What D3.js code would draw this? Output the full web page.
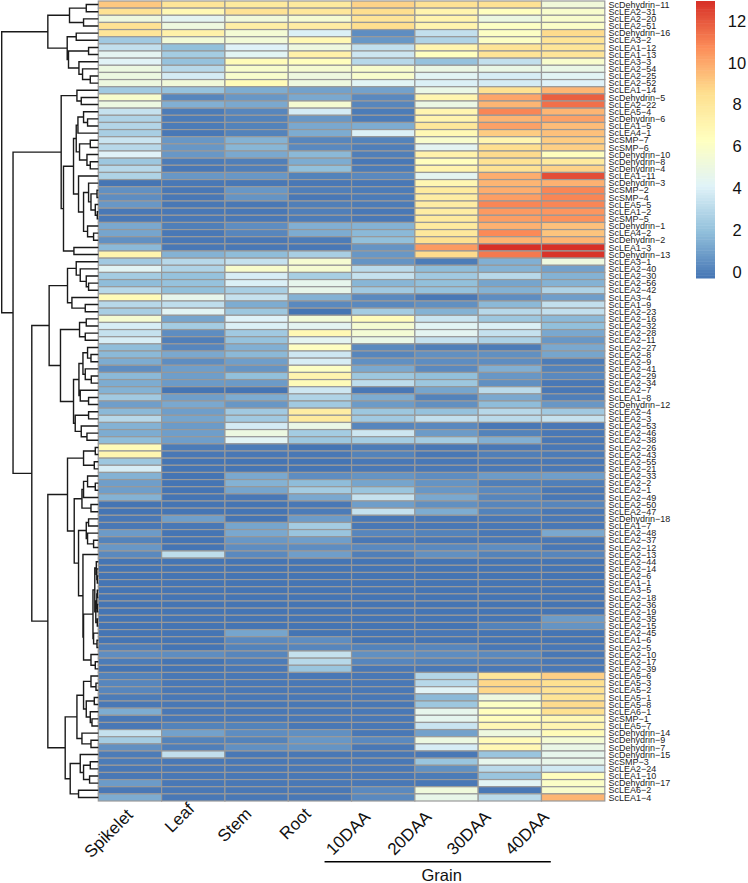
<!DOCTYPE html>
<html><head><meta charset="utf-8">
<script src="https://cdn.jsdelivr.net/npm/d3@7/dist/d3.min.js"></script>
<style>html,body{margin:0;padding:0;background:#fff}svg{display:block}text{font-family:"Liberation Sans",Arial,sans-serif}</style>
</head><body><svg id="c" width="748" height="883"></svg>
<script>
const tissues=["Spikelet","Leaf","Stem","Root","10DAA","20DAA","30DAA","40DAA"];
const genes=["ScDehydrin-11","ScLEA2-31","ScLEA2-20","ScLEA2-51","ScDehydrin-16","ScLEA3-2","ScLEA1-12","ScLEA1-13","ScLEA3-3","ScLEA2-54","ScLEA2-25","ScLEA2-52","ScLEA1-14","ScDehydrin-5","ScLEA2-22","ScLEA5-4","ScDehydrin-6","ScLEA1-5","ScLEA4-1","ScSMP-7","ScSMP-6","ScDehydrin-10","ScDehydrin-8","ScDehydrin-4","ScLEA1-11","ScDehydrin-3","ScSMP-2","ScSMP-4","ScLEA5-5","ScLEA1-2","ScSMP-5","ScDehydrin-1","ScLEA4-2","ScDehydrin-2","ScLEA1-3","ScDehydrin-13","ScLEA3-1","ScLEA2-40","ScLEA2-30","ScLEA2-56","ScLEA2-42","ScLEA3-4","ScLEA1-9","ScLEA2-23","ScLEA2-16","ScLEA2-32","ScLEA2-28","ScLEA2-11","ScLEA2-27","ScLEA2-8","ScLEA2-9","ScLEA2-41","ScLEA2-29","ScLEA2-34","ScLEA2-7","ScLEA1-8","ScDehydrin-12","ScLEA2-4","ScLEA2-3","ScLEA2-53","ScLEA2-46","ScLEA2-38","ScLEA2-26","ScLEA2-43","ScLEA2-55","ScLEA2-21","ScLEA2-33","ScLEA2-2","ScLEA2-1","ScLEA2-49","ScLEA2-50","ScLEA2-47","ScDehydrin-18","ScLEA1-7","ScLEA2-48","ScLEA2-37","ScLEA2-12","ScLEA2-13","ScLEA2-44","ScLEA2-14","ScLEA2-6","ScLEA1-1","ScLEA3-5","ScLEA2-18","ScLEA2-36","ScLEA2-19","ScLEA2-35","ScLEA2-15","ScLEA2-45","ScLEA1-6","ScLEA2-5","ScLEA2-10","ScLEA2-17","ScLEA2-39","ScLEA5-6","ScLEA5-3","ScLEA5-2","ScLEA5-1","ScLEA5-8","ScLEA6-1","ScSMP-1","ScLEA5-7","ScDehydrin-14","ScDehydrin-9","ScDehydrin-7","ScDehydrin-15","ScSMP-3","ScLEA2-24","ScLEA1-10","ScDehydrin-17","ScLEA6-2","ScLEA1-4"];
const expression=[
[9.3,8.3,8,8,9,8.5,8.5,5.5],
[8.5,7,8.5,8.2,8.7,7.3,6.5,6],
[5.3,4.6,5.5,5.8,8.3,7.3,5.2,6],
[8.5,5.3,7.7,7.8,8.7,7.3,6.3,6.2],
[8.3,7.5,5.7,4.2,.7,3.5,6.3,8.8],
[2.6,5.6,5.6,7,1,3,6.3,8.4],
[3.5,2.2,4.3,5.3,3.5,7.2,8.4,8.3],
[4.6,2.7,4.5,7.5,3.8,6.5,8.4,8.3],
[4.4,2.3,6.8,6.6,3.2,2.3,3.5,6],
[5.2,3.2,6,5.8,6,5.1,5,5],
[5.2,4,6,5.3,6,4.5,4.1,4.5],
[5.3,5.5,6.8,5.3,4.5,4.2,4,4.3],
[2.6,2.3,1.6,1.3,1.3,5,8.6,9.8],
[6,.5,1,1.5,.6,7.2,10.2,11.9],
[5.2,1.7,1.5,5.8,.5,5.1,9.8,11.5],
[3.6,.2,.5,4,.2,7.2,11,9.8],
[3,.2,.4,1,.2,7.3,9.8,10.3],
[3.1,.2,.4,1.5,1.6,8.2,10.3,9.6],
[2.8,.1,.4,1.6,4.2,7,9.2,9.5],
[3.7,1,1.8,.5,.4,6,7.2,9.2],
[3.2,1,1.9,.6,.3,4.6,8.7,9.1],
[4.3,1,1.5,2,.3,7.4,8.8,6.6],
[2.5,.2,.3,1.6,.1,6.6,8.5,8],
[3.2,.1,.3,2.2,.2,7.3,8.5,9],
[3,1,1,.4,.6,4.6,10,12.3],
[0,.1,.1,.1,.1,7.1,9.8,9.9],
[.8,.1,1,.3,.2,8,10,11],
[.7,.1,.9,.1,.2,7.8,10.4,11],
[1,.1,.1,.3,.2,7.8,11,11],
[.1,.1,.1,.3,.1,7.8,10.5,10.6],
[.1,.1,.1,.2,.1,8,10.4,10.7],
[1.5,.3,.7,1.7,1.8,8,9.9,9.5],
[1.4,.1,.5,1.6,2,8.1,10.9,9.4],
[.8,.1,.1,.2,2.2,8.6,9.8,9.8],
[2,.1,.1,.1,.9,10.5,13,13],
[7.3,1.8,2.1,2.8,1,8.8,11.3,12.9],
[2.6,3.2,3.6,5.8,.9,.2,1.7,5.3],
[4.5,3,6,5.8,3.3,2.1,1.8,1.3],
[2.7,2.3,4.1,2.8,3.6,2.6,3.2,1.8],
[2.1,2.3,4.2,4.8,1.9,2.2,1.4,1.8],
[3.2,2.2,2.8,4.9,2.6,2.3,1.8,3],
[6.8,4.8,3.6,1.8,.6,.1,.7,1.2],
[3.2,3.4,1.6,.6,.6,.8,2,3.5],
[2.8,4.5,2.5,0,2.7,1.8,3.2,3.5],
[5.8,1.4,4.3,5.6,6.7,3.7,2.5,2],
[4.1,2.7,4.2,4.6,5.8,4.5,4.2,2.2],
[3.6,.7,2.6,7,5.7,4.6,3.6,1.5],
[4.1,.3,2.3,4.6,5,3.6,2.9,1],
[2.1,.5,1.7,6.4,.6,.3,.2,1.5],
[2,1.5,2,3.8,.5,.8,.8,1.4],
[1.6,.7,1.2,4.1,.8,.7,.7,.2],
[.7,1.2,.9,6.3,1.5,.6,1.7,.4],
[2,1.2,2.2,7.3,2.5,2.2,1,.6],
[1.6,1.1,1.1,6.8,3.4,2.5,.8,.1],
[1.8,0,0,3.8,.1,1.4,3.3,.1],
[2.6,1.2,1.6,3,1.6,.4,1.5,.3],
[1.2,1.5,1,2.6,1.1,.8,2.1,1],
[2,1.2,2.6,7.8,2.5,2.3,3.2,2.6],
[3.2,1.4,2.6,8,2.6,3.5,3.3,3.6],
[1.8,1.1,4,5,.5,.6,.1,.1],
[1.6,1.2,5.2,2.7,3.8,1.1,.4,.1],
[2.1,1.2,4.5,2.5,2.7,2.7,1.7,.1],
[6.8,.2,.2,0,.2,.1,.1,.1],
[7.2,.1,.1,.1,.4,.1,.3,.2],
[2.5,0,0,0,.1,.1,.1,.1],
[4.1,0,0,0,.1,.1,.1,.1],
[1.8,0,1.5,.7,.9,.7,1.1,1.2],
[1.2,0,1.8,2.1,1.4,.9,.3,.3],
[1.2,0,1.4,2.7,2.4,1,.6,.1],
[1.8,0,.1,1.5,3.6,1.5,.5,.1],
[0,0,0,.1,1.2,.8,.5,.5],
[0,0,0,.2,3.6,1.6,.4,.1],
[.1,1.2,0,1.1,.1,.1,.1,.1],
[.1,.1,1.4,2.7,.1,.1,.1,.1],
[1.1,0,1.5,2.4,.5,.4,.1,1.5],
[.4,0,1,1.2,.1,.1,.1,.1],
[1,0,.7,.7,.6,.6,.7,.1],
[.6,3.4,.6,1.2,.3,.8,.4,.5],
[0,0,0,0,0,0,0,0],
[0,0,0,0,0,0,0,0],
[0,0,0,0,0,0,0,0],
[0,0,0,0,0,0,0,0],
[0,0,0,0,0,0,0,0],
[0,0,0,0,0,0,0,0],
[0,0,0,0,0,0,0,0],
[0,0,0,0,0,0,0,0],
[0,0,0,0,0,0,0,1.1],
[0,0,0,0,0,0,.4,.9],
[0,0,1.4,0,0,.1,0,0],
[0,0,.6,.7,0,0,0,0],
[.3,0,.4,.5,.4,.5,.1,.1],
[.7,.7,.5,3.6,.8,.7,.6,.1],
[.2,0,.2,3.2,.5,.4,.3,.1],
[0,0,.1,2.4,.1,.1,.1,.1],
[.4,.1,.1,.1,.1,3.1,8.3,9.1],
[.5,.1,.1,.1,.1,3.2,8.9,8.6],
[.5,.1,.1,.1,.1,4.4,8.9,8.5],
[.2,.1,.1,.1,.1,2,5.3,8.4],
[.1,.1,.1,.1,.1,2.5,6.3,8.8],
[1.6,.1,.1,.1,.1,4.8,6.6,8.6],
[.1,.1,.1,.1,.1,4.7,6.6,7],
[.1,.4,.4,.1,.1,3.7,7,7.2],
[3.6,1.3,.7,.8,.1,1.3,5.3,6.8],
[2.7,.4,.4,1,.6,5.2,6.8,5.7],
[.8,.3,.8,.9,.1,4.1,7,5],
[.2,3.5,.1,.1,.1,.1,2.4,4.8],
[.2,.1,.1,.1,.1,2.4,4.8,4.9],
[.1,.1,.1,.1,.1,.8,3.3,3.9],
[.1,.1,.1,.1,.1,.2,2.4,6.6],
[1.1,.1,.1,.1,.1,.1,4.5,6.2],
[.1,.1,.1,.1,.6,5.4,.1,6],
[1.6,.1,.1,.1,.6,4.9,3.3,9.8]
];
const colorStops=["#4575B4","#91BFDB","#E0F3F8","#FFFFBF","#FEE090","#FC8D59","#D73027"];
const legendTicks=[0,2,4,6,8,10,12];
const labelShift=[[4,-2],[2,-8],[-4,-3],[-8,-3],[-12,0],[-14,0],[-18,0],[-23,0]];
// merge tree: [height, left, right]; numbers are 1-based row positions
const upperCluster=[50.3,[28.7,[12,1,2],[14.7,3,4]],[31,[22,5,6],[29.7,[9.7,7,8],[19.3,9,[15.7,10,[8,11,12]]]]]];
const seedCluster=[37,[21.3,13,[17,14,15]],[34.7,[24.7,[22,[20.3,[14.7,16,[10.7,17,18]],19],[18.7,[8,20,21],[11.3,22,[8,23,24]]]],[19.7,25,[14.7,[9.7,26,[7.3,[1.3,27,28],[3,29,[1,30,31]]]],[10.7,32,[4.7,33,34]]]]],[24.3,35,36]]];
const midCluster=[49,[30.7,[22,37,[18,38,[12,39,[9.7,40,41]]]],[26.3,42,[13,43,44]]],[37.7,[18.7,[12,45,46],[13,47,48]],[24.7,[19.3,[15.3,[10.7,49,[7.3,50,51]],[13,52,[7,53,54]]],[18,55,[9.7,56,57]]],[23,[9.7,58,59],[17,60,[11.3,61,62]]]]]];
const lowCluster=[30.7,[14.7,[3,63,64],[4,65,66]],[24,[16.3,[14.7,[10.7,67,[3,68,69]],70],[7.3,71,72]],[19.7,[12,[9.7,73,74],[10.7,75,[4.7,76,77]]],[15.3,78,[14.7,[5.3,[3.5,[2,79,[1.5,80,[1,81,82]]],[2.5,[1.5,[1,83,84],[1,85,86]],[1,87,88]]],[4.7,89,[1.3,90,91]]],[7.3,92,[3,93,94]]]]]]];
const lateCluster=[33,[21.3,[14.7,[7.3,95,[2.3,96,97]],[12,[4,98,99],[8,100,[6.3,101,102]]]],[16.3,103,[7.3,104,105]]],[28,[18,106,[14.7,[8,107,108],[8.7,109,110]]],[19.7,111,112]]];
const rootHeight=96.3, splitHeight=85, restHeight=66.3, lowerHeight=50.3;
const tree=[rootHeight,upperCluster,[splitHeight,seedCluster,[restHeight,midCluster,[lowerHeight,lowCluster,lateCluster]]]];

const L={left:98.3,right:604.8,top:1,bottom:801,legX:696,legW:19,legTop:1,legBottom:278};
const svg=d3.select("#c");
const xS=d3.scaleBand().domain(tissues).range([L.left,L.right]);
const yS=d3.scaleBand().domain(genes).range([L.top,L.bottom]);
const cMax=13;
const color=d3.scaleLinear().domain(colorStops.map((_,i)=>i*cMax/(colorStops.length-1))).range(colorStops).interpolate(d3.interpolateRgb).clamp(true);

const cells=[];
expression.forEach((row,i)=>row.forEach((v,j)=>cells.push({g:genes[i],t:tissues[j],v})));
svg.append("g").selectAll("rect").data(cells).join("rect")
  .attr("x",d=>xS(d.t)).attr("y",d=>yS(d.g)).attr("width",xS.bandwidth()).attr("height",yS.bandwidth())
  .attr("fill",d=>color(d.v)).attr("stroke","#999999").attr("stroke-width",1.2);

svg.append("g").selectAll("text").data(genes).join("text")
  .attr("x",608.5).attr("y",d=>yS(d)+yS.bandwidth()/2+3.2)
  .attr("font-size",9).attr("fill","#222").text(d=>d.replace("-","\u2212"));

// dendrogram
const hS=d3.scaleLinear().domain([0,rootHeight]).range([L.left,1.7]);
const root=d3.hierarchy(tree,d=>Array.isArray(d)?d.slice(1):null);
root.eachAfter(n=>{
  if(!n.children){n.px=hS(0);n.py=yS(genes[n.data-1])+yS.bandwidth()/2;}
  else{n.px=hS(n.data[0]);n.py=d3.mean(n.children,c=>c.py);}
});
const p=d3.path();
root.each(n=>{ if(n.children){
  const [a,b]=n.children;
  p.moveTo(a.px,a.py);p.lineTo(n.px,a.py);p.lineTo(n.px,b.py);p.lineTo(b.px,b.py);
}});
svg.append("path").attr("d",p.toString()).attr("fill","none").attr("stroke","#1a1a1a").attr("stroke-width",1.4);

// legend
const levels=d3.range(0,100).map(i=>i/100*cMax);
const lS=d3.scaleLinear().domain([0,cMax]).range([L.legBottom,L.legTop]);
svg.append("g").selectAll("rect").data(levels).join("rect")
  .attr("x",L.legX).attr("width",L.legW)
  .attr("y",d=>lS(d+cMax/100)).attr("height",(L.legBottom-L.legTop)/100+.5)
  .attr("fill",d=>color(d+cMax/200));
const tS=d3.scaleLinear().domain([0,12]).range([272,20.7]);
svg.append("g").selectAll("text").data(legendTicks).join("text")
  .attr("x",737).attr("y",d=>tS(d)+6).attr("text-anchor","middle").attr("font-size",16.5).attr("fill","#111").text(d=>d);

// column labels
svg.append("g").selectAll("text").data(tissues).join("text")
  .attr("text-anchor","end").attr("font-size",17).attr("fill","#111")
  .attr("transform",(d,i)=>`translate(${xS(d)+xS.bandwidth()/2+labelShift[i][0]},${818+labelShift[i][1]}) rotate(-45)`)
  .text(d=>d);
svg.append("line").attr("x1",xS("10DAA")-27).attr("x2",L.right-54).attr("y1",861.7).attr("y2",861.7).attr("stroke","#000").attr("stroke-width",1.5);
svg.append("text").attr("x",441.7).attr("y",881).attr("text-anchor","middle").attr("font-size",16.5).attr("fill","#111").text("Grain");
</script></body></html>
